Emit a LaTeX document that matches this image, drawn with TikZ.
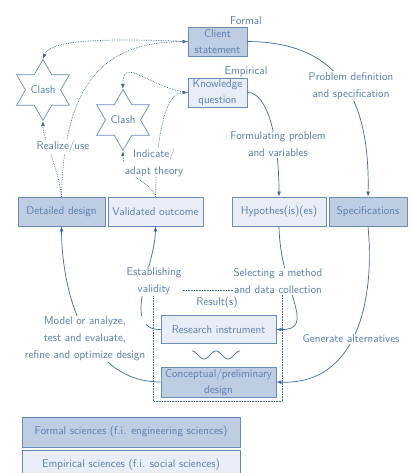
\documentclass[tikz,border=0pt]{standalone}
\usetikzlibrary{shapes.geometric,arrows.meta}
\definecolor{linec}{HTML}{3F6AA3}
\definecolor{borderc}{HTML}{6B8CBB}
\definecolor{textc}{HTML}{5A7DB0}
\definecolor{darkfill}{HTML}{BFCDE2}
\definecolor{lightfill}{HTML}{E9EEF6}
\begin{document}
\begin{tikzpicture}[x=1pt,y=-1pt,
  font=\fontsize{11.3pt}{17pt}\selectfont\sffamily,
  box/.style={draw=borderc, line width=0.8pt, text=textc, inner sep=0pt,
    align=center, minimum height=29pt},
  formalbox/.style={box, fill=darkfill},
  empbox/.style={box, fill=lightfill},
  lbl/.style={text=textc, fill=white, inner sep=1pt, align=center},
  tag/.style={text=textc, inner sep=0pt},
  conn/.style={draw=linec, line width=0.7pt, -{Latex[length=5pt,width=4pt]}},
  dotconn/.style={conn, densely dotted},
  clash/.style={star, star points=6, star point ratio=1.73, minimum size=54pt,
    inner sep=0pt, draw=borderc, line width=0.7pt, text=textc, fill=white}]
\useasboundingbox (0,0) rectangle (411,473);

% problem statements
\node[formalbox, minimum width=59pt] (client) at (217.5,41.5) {Client\\[-1pt]statement};
\node[empbox, minimum width=59pt] (know) at (217.5,92.5) {Knowledge\\[-1pt]question};
\node[tag] (formal) at (246,21) {Formal};
\node[tag] (empirical) at (246,72) {Empirical};

% clashes
\node[clash] (clash1) at (43,90) {Clash};
\node[clash] (clash2) at (123,120) {Clash};

% outcomes row
\node[formalbox, minimum width=87pt] (detailed) at (61.5,211.5) {Detailed design};
\node[empbox, minimum width=95pt] (valid) at (155.5,211.5) {Validated outcome};
\node[empbox, minimum width=94pt] (hyp) at (279,211.5) {Hypothes(is)(es)};
\node[formalbox, minimum width=78pt] (spec) at (368,211.5) {Specifications};

% research / design core
\node[empbox, minimum width=115pt, minimum height=28pt] (ri) at (218.5,329.5) {Research instrument};
\node[formalbox, minimum width=115pt, minimum height=30pt] (concept) at (218.5,382) {Conceptual/preliminary\\[-1pt]design};
\draw[linec, line width=0.7pt] plot[domain=0:48, samples=60] ({192+\x}, {355-4*cos(\x/48*720)});

% frame around the core
\draw[linec, line width=0.6pt, densely dotted] (153,290) rectangle (282,401);

% solid connectors
\draw[conn] (client.east) .. controls (340,42) and (370,100) .. (spec.north);
\draw[conn] (know.east) .. controls (268,92) and (279,140) .. (hyp.north);
\draw[conn] (hyp.south) .. controls (280,290) and (318,330) .. (ri.east);
\draw[conn] (spec.south) .. controls (375,300) and (357,385) .. (concept.east);
\draw[conn] (ri.west) .. controls (120,330) and (155,265) .. (valid.south);
\draw[conn] (concept.west) .. controls (89,382) and (62,298) .. (detailed.south);

% dotted feedback connectors
\draw[dotconn] (client.west) .. controls (100,38) and (50,40) .. (clash1.north);
\draw[dotconn] (detailed.north) .. controls (64,75) and (110,42) .. (client.west);
\draw[dotconn] (detailed.north) .. controls (58,165) and (43,140) .. (clash1.south);
\draw[dotconn] (know.west) .. controls (150,88) and (122,55) .. (clash2.north);
\draw[dotconn] (valid.north) .. controls (157,115) and (170,92.5) .. (know.west);
\draw[dotconn] (valid.north) .. controls (150,180) and (123,178) .. (clash2.south);

% connector labels
\node[lbl] (realize) at (63,147) {Realize/use};
\node[lbl] (indicate) at (154,162.5) {Indicate/\\adapt theory};
\node[lbl] (probdef) at (351,86) {Problem definition\\and specification};
\node[lbl] (formul) at (278,144.5) {Formulating problem\\and variables};
\node[lbl] (establ) at (154,281.5) {Establishing\\validity};
\node[lbl] (select) at (278,281.5) {Selecting a method\\and data collection};
\node[lbl] (model) at (85,339) {Model or analyze,\\test and evaluate,\\refine and optimize design};
\node[lbl] (gener) at (351,339) {Generate alternatives};
\node[tag] (results) at (217,303) {Result(s)};

% legend
\node[formalbox, minimum width=218pt, minimum height=30pt] (legf) at (131,432) {Formal sciences (f.i. engineering sciences)};
\node[empbox, minimum width=218pt, minimum height=30pt] (lege) at (131,465) {Empirical sciences (f.i. social sciences)};
\end{tikzpicture}
\end{document}
